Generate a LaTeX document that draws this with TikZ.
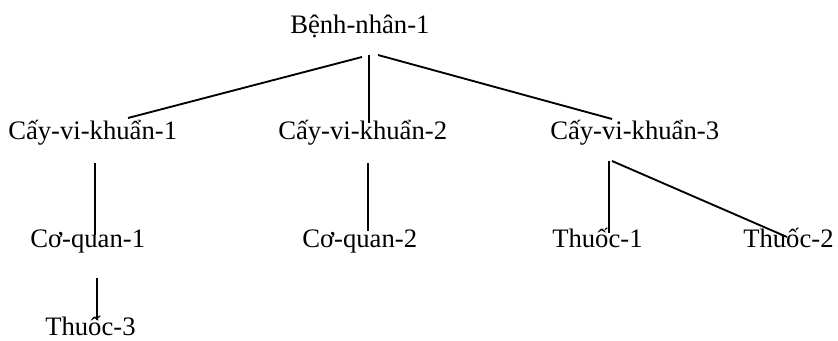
\documentclass[tikz,border=0pt]{standalone}
\usepackage{fontspec}
\setmainfont{Liberation Serif}
\usetikzlibrary{calc,positioning}

\begin{document}
\begin{tikzpicture}[
    x=0.75pt, y=-0.75pt,
    item/.style={inner sep=0pt, anchor=base west, text depth=0pt, font=\fontsize{20}{24}\selectfont},
    link/.style={line width=1.4pt, black},
]
\useasboundingbox (0,0) rectangle (838,341);

% === PATIENT ===
\node[item] at (290,34) (patient) {Bệnh-nhân-1};

% === CULTURES ===
\node[item] at (8,140) (culture-1) {Cấy-vi-khuẩn-1};
\node[item] at (278,140) (culture-2) {Cấy-vi-khuẩn-2};
\node[item] at (550,140) (culture-3) {Cấy-vi-khuẩn-3};

% === ORGANS AND DRUGS ===
\node[item] at (30,248) (organ-1) {Cơ-quan-1};
\node[item] at (302,248) (organ-2) {Cơ-quan-2};
\node[item] at (552,248) (drug-1) {Thuốc-1};
\node[item] at (743,248) (drug-2) {Thuốc-2};
\node[item] at (45,336) (drug-3) {Thuốc-3};

% === LINKS ===
% Patient to cultures
\draw[link] ($(patient.base west)+(72,23)$) -- ($(culture-1.base west)+(120,-22)$);
\draw[link] ($(patient.base west)+(79,21)$) -- ($(culture-2.base west)+(91,-17)$);
\draw[link] ($(patient.base west)+(88,21)$) -- ($(culture-3.base west)+(62,-21)$);

% Cultures to organs and drugs
\draw[link] ($(culture-1.base west)+(87,23)$) -- ($(organ-1.base west)+(65,-13)$);
\draw[link] ($(culture-2.base west)+(90,23)$) -- ($(organ-2.base west)+(66,-17)$);
\draw[link] ($(culture-3.base west)+(59,21)$) -- ($(drug-1.base west)+(57,-15)$);
\draw[link] ($(culture-3.base west)+(62,21)$) -- ($(drug-2.base west)+(44,-11)$);

% Organ to drug
\draw[link] ($(organ-1.base west)+(67,30)$) -- ($(drug-3.base west)+(52,-16)$);

\end{tikzpicture}
\end{document}
